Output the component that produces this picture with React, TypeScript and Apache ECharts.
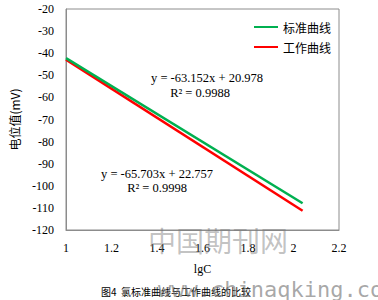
import React, { useEffect, useRef } from "react";
import * as echarts from "echarts";

const standardCurve: [number, number][] = [
  [1, -42.2],
  [2.04, -107.9],
];
const workingCurve: [number, number][] = [
  [1, -42.9],
  [2.04, -111.3],
];
const seriesNames = ["标准曲线", "工作曲线"];
const equations = [
  "y = -63.152x + 20.978",
  "R² = 0.9988",
  "y = -65.703x + 22.757",
  "R² = 0.9998",
];
const caption = "图4  氯标准曲线与工作曲线的比较";

export default function App() {
  const ref = useRef<HTMLDivElement>(null);
  useEffect(() => {
    if (!ref.current) return;
    const chart = echarts.init(ref.current, null, { renderer: "svg" });
    const serif = "Liberation Serif";
    const cjk = "Noto Sans CJK SC";
    const eqFont = `12.5px "${serif}"`;
    chart.setOption({
      animation: false,
      backgroundColor: "#ffffff",
      grid: {
        left: 62,
        top: 9,
        right: 39,
        bottom: 70,
        show: true,
        borderColor: "#8c8c8c",
        borderWidth: 1,
      },
      legend: {
        right: 42,
        top: 16,
        orient: "vertical",
        itemWidth: 24,
        itemHeight: 2,
        itemGap: 8,
        icon: "rect",
        textStyle: { fontFamily: cjk, fontSize: 12, color: "#000" },
        data: seriesNames,
      },
      xAxis: {
        type: "value",
        min: 1,
        max: 2.2,
        interval: 0.2,
        name: "lgC",
        nameLocation: "middle",
        nameGap: 33,
        nameTextStyle: { fontFamily: serif, fontSize: 12, color: "#000" },
        axisLine: { show: true, lineStyle: { color: "#8c8c8c" } },
        axisTick: { show: false },
        splitLine: { show: false },
        axisLabel: {
          margin: 12,
          fontFamily: serif,
          fontSize: 12,
          color: "#000",
          formatter: (v: number) => String(Math.round(v * 10) / 10),
        },
      },
      yAxis: {
        type: "value",
        min: -120,
        max: -20,
        interval: 10,
        name: "电位值(mV)",
        nameLocation: "middle",
        nameGap: 46,
        nameRotate: 90,
        nameTextStyle: { fontFamily: cjk, fontSize: 12, color: "#000" },
        axisLine: { show: true, lineStyle: { color: "#8c8c8c" } },
        axisTick: { show: false },
        splitLine: { show: false },
        axisLabel: { margin: 12, fontFamily: serif, fontSize: 12, color: "#000" },
      },
      series: [
        {
          name: seriesNames[0],
          type: "line",
          data: standardCurve,
          symbol: "none",
          lineStyle: { color: "#00b050", width: 2.5 },
          itemStyle: { color: "#00b050" },
          z: 3,
        },
        {
          name: seriesNames[1],
          type: "line",
          data: workingCurve,
          symbol: "none",
          lineStyle: { color: "#ff0000", width: 2.5 },
          itemStyle: { color: "#ff0000" },
          z: 2,
        },
      ],
      graphic: [
        {
          type: "text",
          x: 207,
          y: 78,
          style: { text: equations[0], font: eqFont, fill: "#000", align: "center", verticalAlign: "middle" },
        },
        {
          type: "text",
          x: 200,
          y: 93,
          style: { text: equations[1], font: eqFont, fill: "#000", align: "center", verticalAlign: "middle" },
        },
        {
          type: "text",
          x: 157,
          y: 174,
          style: { text: equations[2], font: eqFont, fill: "#000", align: "center", verticalAlign: "middle" },
        },
        {
          type: "text",
          x: 157,
          y: 188,
          style: { text: equations[3], font: eqFont, fill: "#000", align: "center", verticalAlign: "middle" },
        },
        {
          type: "text",
          x: 101,
          y: 291,
          style: { text: caption, font: `10px "${cjk}"`, fill: "#000", verticalAlign: "middle" },
        },
        {
          type: "text",
          x: 148,
          y: 240,
          z: 100,
          style: { text: "中国期刊网", font: `28px "Noto Sans CJK SC"`, fill: "rgba(120,120,120,0.45)", verticalAlign: "middle" },
        },
        {
          type: "text",
          x: 158,
          y: 289,
          z: 100,
          style: { text: "www.chinaqking.com", font: `22px "DejaVu Sans Mono"`, fill: "rgba(110,110,110,0.6)", verticalAlign: "middle" },
        },
      ],
    });
    return () => chart.dispose();
  }, []);
  return (
    <div
      ref={ref}
      style={{ position: "fixed", left: 0, top: 0, width: 378, height: 300 }}
    />
  );
}
